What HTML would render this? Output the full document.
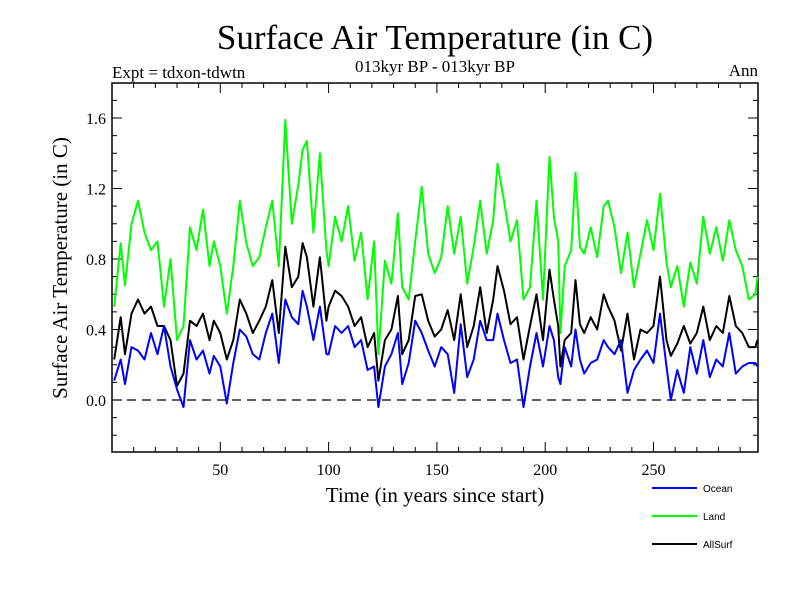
<!DOCTYPE html>
<html><head><meta charset="utf-8"><style>
body{margin:0;background:#fff;width:800px;height:600px;overflow:hidden}
text{font-family:"Liberation Serif",serif}
</style></head><body>
<svg id="chart" width="800" height="600" xmlns="http://www.w3.org/2000/svg">
<text x="435" y="49" font-size="35" text-anchor="middle">Surface Air Temperature (in C)</text>
<text x="112" y="78" font-size="17">Expt = tdxon-tdwtn</text>
<text x="435" y="72" font-size="17" text-anchor="middle">013kyr BP - 013kyr BP</text>
<text x="758" y="76" font-size="17" text-anchor="end">Ann</text>
<text x="435" y="502" font-size="21" text-anchor="middle">Time (in years since start)</text>
<text transform="translate(67,268) rotate(-90)" font-size="21" text-anchor="middle">Surface Air Temperature (in C)</text>
<g id="plot"></g>
<g font-family="Liberation Sans, sans-serif">
<line x1="652" y1="488" x2="697" y2="488" stroke="#0000ff" stroke-width="2"/>
<text x="703" y="492" font-size="10" style="font-family:'Liberation Sans',sans-serif">Ocean</text>
<line x1="652" y1="516" x2="697" y2="516" stroke="#00ff00" stroke-width="2"/>
<text x="703" y="520" font-size="10" style="font-family:'Liberation Sans',sans-serif">Land</text>
<line x1="652" y1="544" x2="697" y2="544" stroke="#000" stroke-width="2"/>
<text x="703" y="548" font-size="10" style="font-family:'Liberation Sans',sans-serif">AllSurf</text>
</g>
</svg>
<script>
const years=[1,4,6,9,12,15,18,21,24,27,30,33,36,39,42,45,47,50,53,56,59,62,65,68,71,74,77,80,83,86,88,90,93,96,99,
100,103,106,109,112,115,118,121,123,126,129,132,134,137,140,143,146,149,152,155,158,161,164,167,170,173,176,178,181,184,187,190,193,196,
199,202,204,206,207,209,212,214,216,218,221,224,227,229,232,235,238,241,244,247,250,253,256,258,261,264,267,270,273,276,279,282,285,288,291,294,297,298];
const land=[0.53,0.89,0.65,1.0,1.13,0.95,0.85,0.9,0.53,0.8,0.34,0.42,0.98,0.85,1.08,0.76,0.9,0.76,0.49,0.76,1.13,0.89,0.76,0.81,0.98,1.13,0.76,1.59,1.0,1.22,1.42,1.47,0.95,1.4,0.85,
0.76,1.04,0.9,1.1,0.79,0.95,0.57,0.9,0.26,0.79,0.66,1.06,0.64,0.57,0.9,1.21,0.83,0.72,0.81,1.1,0.83,1.04,0.66,0.87,1.13,0.83,1.02,1.34,1.13,0.9,1.02,0.57,0.64,1.13,
0.57,1.38,1.04,0.9,0.38,0.76,0.85,1.29,0.87,0.83,0.98,0.81,1.1,1.13,0.98,0.72,0.95,0.64,0.83,1.02,0.85,1.17,0.78,0.64,0.76,0.53,0.78,0.66,1.04,0.83,0.98,0.79,1.02,0.85,0.76,0.57,0.6,0.7];
const allsurf=[0.23,0.47,0.26,0.49,0.57,0.49,0.53,0.42,0.42,0.34,0.08,0.15,0.45,0.42,0.49,0.34,0.45,0.38,0.23,0.34,0.57,0.49,0.38,0.45,0.53,0.68,0.38,0.87,0.64,0.70,0.89,0.81,0.53,0.81,0.45,
0.53,0.62,0.59,0.53,0.42,0.47,0.3,0.38,0.11,0.34,0.4,0.59,0.26,0.34,0.59,0.6,0.45,0.36,0.4,0.51,0.34,0.6,0.3,0.42,0.64,0.38,0.57,0.76,0.62,0.43,0.47,0.23,0.42,0.6,
0.34,0.74,0.57,0.42,0.19,0.34,0.38,0.68,0.43,0.38,0.47,0.4,0.6,0.53,0.45,0.28,0.49,0.23,0.4,0.38,0.42,0.7,0.34,0.25,0.32,0.42,0.32,0.38,0.53,0.34,0.42,0.38,0.59,0.42,0.38,0.3,0.3,0.34];
const ocean=[0.11,0.23,0.09,0.3,0.28,0.23,0.38,0.26,0.42,0.19,0.06,-0.04,0.34,0.23,0.28,0.15,0.25,0.19,-0.02,0.21,0.4,0.36,0.26,0.23,0.38,0.49,0.21,0.57,0.47,0.43,0.62,0.53,0.34,0.53,0.26,
0.26,0.42,0.38,0.42,0.3,0.34,0.17,0.19,-0.04,0.19,0.26,0.38,0.09,0.21,0.45,0.38,0.28,0.19,0.3,0.26,0.04,0.43,0.13,0.23,0.45,0.34,0.34,0.49,0.34,0.21,0.23,-0.04,0.19,0.38,
0.19,0.42,0.34,0.13,0.09,0.3,0.19,0.4,0.23,0.15,0.21,0.23,0.34,0.3,0.26,0.34,0.04,0.17,0.23,0.28,0.21,0.49,0.19,0.0,0.17,0.04,0.3,0.15,0.34,0.13,0.23,0.19,0.38,0.15,0.19,0.21,0.21,0.19];
const yTickLabels=["0.0","0.4","0.8","1.2","1.6"];
const xTickLabels=["50","100","150","200","250"];

const NS="http://www.w3.org/2000/svg";
const L=112,R=758,T=83,B=452;
const xs=v=>L+v*2.166;
const ys=v=>400-v*176.25;
const g=document.getElementById('plot');
function mk(t,a){const e=document.createElementNS(NS,t);for(const k in a)e.setAttribute(k,a[k]);g.appendChild(e);return e;}
const frame=mk('rect',{x:L,y:T,width:R-L,height:B-T,fill:'none',stroke:'#000','stroke-width':1.5});


// y ticks
for(let i=-2;i<=17;i++){const v=i/10,y=ys(v);if(y<T||y>B)continue;const len=(i%4===0)?10:5;
 const t1=mk('line',{x1:L,y1:y,x2:L+len,y2:y,stroke:'#000'});
 const t2=mk('line',{x1:R,y1:y,x2:R-len,y2:y,stroke:'#000'});}
yTickLabels.forEach(s=>{const e=mk('text',{x:L-6,y:ys(parseFloat(s))+6,'font-size':16,'text-anchor':'end'});e.textContent=s;
 });
for(let yr=10;yr<=290;yr+=10){const x=xs(yr);const len=(yr%50===0)?10:5;
 const t=mk('line',{x1:x,y1:B,x2:x,y2:B-len,stroke:'#000'});
 const t2=mk('line',{x1:x,y1:T,x2:x,y2:T+len,stroke:'#000'});}
xTickLabels.forEach(s=>{const e=mk('text',{x:xs(+s),y:B+23,'font-size':16,'text-anchor':'middle'});e.textContent=s;
 });
const zl=mk('line',{x1:L,y1:ys(0),x2:R,y2:ys(0),stroke:'#000','stroke-dasharray':'9,6','stroke-width':1.2});


function series(vals,color,name){const d=vals.map((v,i)=>(i?'L':'M')+xs(years[i]).toFixed(1)+','+ys(v).toFixed(1)).join('');
 const p=mk('path',{d:d,fill:'none',stroke:color,'stroke-width':2,'stroke-linejoin':'round'});
 
 }
series(land,'#00ff00','land-line');
series(allsurf,'#000000','allsurf-line');
series(ocean,'#0000ff','ocean-line');
</script>
</body></html>
